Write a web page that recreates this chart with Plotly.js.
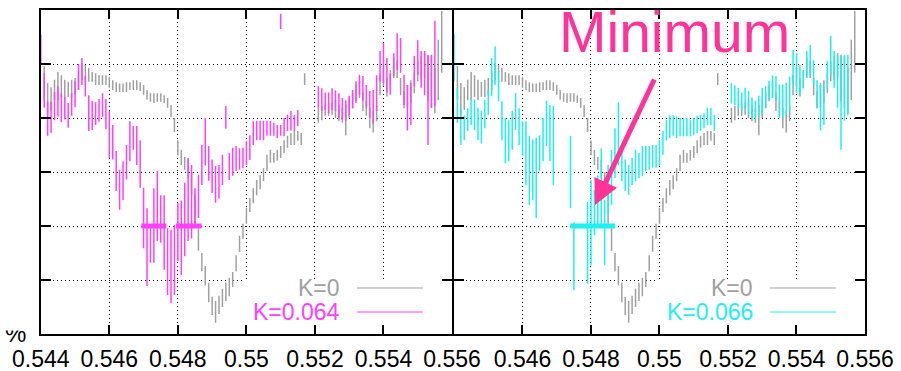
<!DOCTYPE html>
<html>
<head>
<meta charset="utf-8">
<script src="https://cdn.plot.ly/plotly-3.0.1.min.js"></script>
<style>html,body{margin:0;padding:0;background:#fff;}#chart{width:901px;height:371px;}</style>
</head>
<body>
<div id="chart"></div>
<script>
// x grid of the spectra: first sample and step
const xStart = 0.544;
const xStep = 0.0001;

// K=0 (gray), centre values and half-lengths of the error bars
const grayC = [null,
4.65,4.35,4.36,4.52,4.59,4.59,4.52,4.53,4.55,4.58,
4.69,4.86,4.82,4.80,4.76,4.72,4.70,4.70,4.70,4.66,
4.61,4.57,4.56,4.56,4.57,4.59,4.61,4.61,4.58,4.52,
4.43,4.38,4.37,4.38,4.38,4.35,4.28,4.13,3.87,3.45,
3.27,3.16,3.06,2.79,2.30,1.75,1.33,1.08,0.77,0.52,
0.41,0.54,0.67,0.78,0.87,1.01,1.31,1.67,1.90,2.19,
2.39,2.56,2.71,2.81,2.95,3.17,3.29,3.26,3.31,3.37,
3.47,3.56,3.61,3.63,3.67,3.61,4.72,null,null,null,
4.05,4.09,4.14,4.16,4.17,4.17,4.09,4.05,3.96,4.19,
4.32,4.46,4.53,4.30,4.18,4.00,3.93,4.09,4.61,4.76,
4.57,4.72,4.93,4.90,4.58,4.34,4.40,4.49,4.65,4.87,
4.93,4.97,4.74,4.67,4.51,4.89,5.41];
const grayE = [null,
0.31,0.30,0.21,0.19,0.26,0.20,0.19,0.14,0.16,0.16,
0.17,0.16,0.16,0.13,0.09,0.11,0.09,0.09,0.09,0.10,
0.09,0.09,0.08,0.08,0.09,0.07,0.09,0.09,0.08,0.09,
0.09,0.08,0.09,0.08,0.08,0.07,0.09,0.11,0.13,0.14,
0.14,0.12,0.17,0.21,0.28,0.21,0.17,0.18,0.18,0.17,
0.20,0.17,0.17,0.17,0.17,0.14,0.15,0.15,0.14,0.15,
0.13,0.14,0.14,0.13,0.12,0.15,0.12,0.09,0.10,0.11,
0.12,0.11,0.11,0.13,0.09,0.11,0.11,null,null,null,
0.14,0.13,0.10,0.12,0.11,0.17,0.15,0.14,0.28,0.19,
0.14,0.15,0.16,0.17,0.14,0.19,0.20,0.15,0.19,0.17,
0.17,0.17,0.19,0.16,0.16,0.16,0.21,0.21,0.19,0.19,
0.22,0.23,0.43,0.48,0.42,0.56,0.57];

// K=0.064 (magenta)
const magC = [5.28,
4.51,3.98,4.01,4.22,4.31,4.19,4.18,4.05,4.25,4.44,
4.76,4.86,4.59,4.09,4.05,4.08,4.14,4.24,4.07,3.69,
3.55,3.02,2.67,2.84,3.18,3.57,3.63,3.49,3.15,2.15,
1.61,1.66,2.01,2.37,2.13,1.88,1.34,1.25,1.37,1.89,
1.78,2.12,2.49,2.45,2.36,2.55,3.13,3.56,3.16,2.92,
2.77,2.82,3.04,4.01,3.10,3.19,3.25,3.24,3.26,3.35,
3.45,3.72,3.77,3.77,3.77,3.81,3.81,3.79,3.75,3.77,
3.83,3.91,3.95,3.91,4.00,null,null,null,null,null,
4.39,4.34,4.31,4.28,4.35,4.32,4.23,4.17,4.14,4.23,
4.35,4.48,4.61,4.55,4.40,4.25,4.21,4.46,4.96,5.02,
4.79,4.63,4.99,5.23,5.16,4.52,4.19,4.26,4.87,5.12,
4.90,4.83,4.33,4.68,5.01];
const magE = [0.26,
0.32,0.31,0.29,0.26,0.28,0.27,0.21,0.23,0.21,0.24,
0.24,0.25,0.19,0.33,0.27,0.21,0.21,0.22,0.28,0.44,
0.32,0.37,0.37,0.36,0.32,0.37,0.22,0.36,0.44,0.56,
0.72,0.34,0.69,0.65,0.44,0.69,0.62,0.68,0.65,0.54,
0.69,0.68,0.77,0.68,0.34,0.40,0.37,0.44,0.32,0.31,
0.34,0.31,0.28,0.21,0.25,0.26,0.23,0.20,0.19,0.22,
0.23,0.22,0.18,0.18,0.18,0.14,0.14,0.12,0.12,0.10,
0.17,0.15,0.18,0.15,0.15,null,null,null,null,null,
0.20,0.21,0.16,0.19,0.20,0.19,0.23,0.20,0.19,0.18,
0.17,0.20,0.19,0.23,0.21,0.25,0.31,0.33,0.28,0.37,
0.32,0.20,0.21,0.34,0.32,0.28,0.42,0.39,0.28,0.32,
0.34,0.41,0.83,0.49,0.79];
const magExtraX = [0.5510];
const magExtraC = [5.79];
const magExtraE = [0.14];

// K=0.066 (cyan)
const cyanC = [5.13,
4.23,3.84,3.82,3.97,4.12,4.06,3.89,3.83,4.07,4.29,
4.76,4.97,4.59,3.95,3.58,3.58,3.77,4.12,3.84,3.62,
3.35,3.03,3.04,2.89,3.35,3.60,3.90,3.72,3.49,null,
null,null,null,3.00,1.44,null,null,null,1.69,2.06,
2.25,2.48,2.73,1.88,2.67,2.90,3.35,3.71,3.11,2.94,
2.85,3.01,3.12,3.12,3.20,3.25,3.26,3.29,3.29,3.35,
3.54,3.77,3.84,3.86,3.83,3.83,3.83,3.83,3.81,3.84,
3.88,3.91,3.95,4.03,4.03,3.91,null,null,null,null,
4.46,4.42,4.37,4.30,4.37,4.28,4.19,4.14,4.23,4.31,
4.39,4.51,4.58,4.55,4.31,4.31,4.35,4.45,4.94,4.83,
4.70,4.72,4.99,5.07,4.84,4.44,4.21,4.23,4.81,5.16,
4.90,4.68,4.28,4.56,4.61];
const cyanE = [0.44,
0.32,0.34,0.23,0.21,0.25,0.28,0.30,0.30,0.26,0.23,
0.35,0.36,0.28,0.36,0.42,0.38,0.36,0.34,0.34,0.32,
0.59,0.64,0.56,0.74,0.33,0.40,0.42,0.52,0.73,null,
null,null,null,0.67,0.63,null,null,null,0.76,0.79,
0.42,0.46,0.71,0.60,0.46,0.51,0.46,0.58,0.28,0.29,
0.28,0.25,0.29,0.23,0.28,0.23,0.22,0.21,0.21,0.24,
0.22,0.19,0.21,0.19,0.20,0.17,0.17,0.17,0.15,0.16,
0.16,0.15,0.14,0.16,0.16,0.15,null,null,null,null,
0.19,0.18,0.19,0.17,0.19,0.22,0.19,0.18,0.18,0.25,
0.20,0.18,0.21,0.23,0.31,0.31,0.30,0.32,0.32,0.37,
0.28,0.17,0.25,0.28,0.23,0.26,0.44,0.36,0.25,0.36,
0.34,0.49,0.87,0.61,0.56];

// minimum estimates (horizontal error bars)
const minMagX = [0.54730, 0.54832];
const minMagY = [2.0, 2.0];
const minMagErr = [0.000365, 0.000375];
const minCyanX = [0.54805];
const minCyanY = [2.0];
const minCyanErr = [0.000657];

// axis ticks
const xTicks = [0.544, 0.546, 0.548, 0.550, 0.552, 0.554, 0.556];
const xLabelsLeft = ['0.544','0.546','0.548','0.55','0.552','0.554','0.556'];
const xLabelsRight = ['','0.546','0.548','0.55','0.552','0.554','0.556'];
const legendLeft = ['K=0', 'K=0.064'];
const legendRight = ['K=0', 'K=0.066'];

const GRAY = '#a0a0a0', MAG = '#ff40ff', CYAN = '#1ef0f0', PINK = '#ff3399';
const FONT = 'Liberation Sans, Arial, Helvetica, sans-serif';

function bars(c, e, color, xa, ya) {
  return {
    type: 'scatter', mode: 'markers', x0: xStart, dx: xStep, y: c,
    xaxis: xa, yaxis: ya, cliponaxis: false, hoverinfo: 'skip',
    marker: {size: 1, color: 'rgba(0,0,0,0)'},
    error_y: {type: 'data', array: e, symmetric: true, width: 0, thickness: 1.5, color: color}
  };
}
function hbars(x, y, err, color, xa, ya) {
  return {
    type: 'scatter', mode: 'markers', x: x, y: y, xaxis: xa, yaxis: ya,
    cliponaxis: false, hoverinfo: 'skip',
    marker: {size: 1, color: 'rgba(0,0,0,0)'},
    error_x: {type: 'data', array: err, symmetric: true, width: 0, thickness: 5, color: color}
  };
}

const data = [
  bars(grayC, grayE, GRAY, 'x', 'y'),
  bars(magC, magE, MAG, 'x', 'y'),
  {type: 'scatter', mode: 'markers', x: magExtraX, y: magExtraC, xaxis: 'x', yaxis: 'y',
   cliponaxis: false, hoverinfo: 'skip', marker: {size: 1, color: 'rgba(0,0,0,0)'},
   error_y: {type: 'data', array: magExtraE, symmetric: true, width: 0, thickness: 1.5, color: MAG}},
  hbars(minMagX, minMagY, minMagErr, MAG, 'x', 'y'),
  bars(grayC, grayE, GRAY, 'x2', 'y2'),
  bars(cyanC, cyanE, CYAN, 'x2', 'y2'),
  hbars(minCyanX, minCyanY, minCyanErr, CYAN, 'x2', 'y2')
];

function xaxis(domain, labels, anchor) {
  return {
    domain: domain, range: [0.544, 0.556], anchor: anchor,
    tickmode: 'array', tickvals: xTicks, ticktext: labels,
    ticks: 'inside', ticklen: 9, tickwidth: 2, tickcolor: '#000',
    showline: true, linewidth: 2, linecolor: '#000', mirror: 'ticks',
    showgrid: true, gridcolor: '#000', gridwidth: 1, griddash: '1px,3px',
    zeroline: false, ticklabelstandoff: 3,
    tickfont: {family: FONT, size: 23, color: '#000'}
  };
}
function yaxis(anchor) {
  return {
    domain: [0, 1], range: [0, 6], anchor: anchor, tick0: 0, dtick: 1,
    ticks: 'inside', ticklen: 10, tickwidth: 2, tickcolor: '#000',
    showline: true, linewidth: 2, linecolor: '#000', mirror: 'ticks',
    showgrid: true, gridcolor: '#000', gridwidth: 1, griddash: '1px,3px',
    zeroline: false, showticklabels: false
  };
}

const shapes = [];
const annotations = [];
[['x','y',legendLeft,MAG],['x2','y2',legendRight,CYAN]].forEach(function(p) {
  shapes.push({type: 'rect', xref: p[0], yref: p[1], x0: 0.5499, x1: 0.556, y0: 0, y1: 1.01,
    fillcolor: '#fff', line: {width: 0}, layer: 'between'});
  shapes.push({type: 'line', xref: p[0], yref: p[1], x0: 0.55323, x1: 0.55515, y0: 0.852, y1: 0.852,
    line: {color: GRAY, width: 1}});
  shapes.push({type: 'line', xref: p[0], yref: p[1], x0: 0.55323, x1: 0.55515, y0: 0.407, y1: 0.407,
    line: {color: p[3], width: 1}});
  annotations.push({xref: p[0], yref: p[1], x: 0.55278, y: 0.852, xanchor: 'right', yanchor: 'middle',
    text: p[2][0], showarrow: false, font: {family: FONT, size: 23, color: GRAY}});
  annotations.push({xref: p[0], yref: p[1], x: 0.55278, y: 0.407, xanchor: 'right', yanchor: 'middle',
    text: p[2][1], showarrow: false, font: {family: FONT, size: 23, color: p[3]}});
});
annotations.push({xref: 'x2', yref: 'y2', x: 0.55044, y: 5.589, xanchor: 'center', yanchor: 'middle',
  text: 'Minimum', showarrow: false, borderpad: 0, font: {family: FONT, size: 57, color: PINK}});
annotations.push({xref: 'x2', yref: 'y2', x: 0.548117, y: 2.389, axref: 'x2', ayref: 'y2',
  ax: 0.549869, ay: 4.741, text: '', showarrow: true, arrowhead: 2, arrowsize: 1,
  arrowwidth: 5, arrowcolor: PINK, standoff: 0});
annotations.push({xref: 'paper', yref: 'paper', x: 0.0167, y: -0.046, xanchor: 'center', yanchor: 'bottom',
  text: '%', showarrow: false, font: {family: FONT, size: 24, color: '#000'}});
annotations.push({xref: 'paper', yref: 'paper', x: 0.0167, y: 0.035, xanchor: 'center', yanchor: 'middle',
  text: ' ', width: 30, height: 14, bgcolor: '#fff', borderpad: 0, showarrow: false,
  font: {family: FONT, size: 8, color: '#fff'}});

const layout = {
  width: 901, height: 371,
  margin: {l: 0, r: 0, t: 10, b: 37, pad: 0},
  paper_bgcolor: '#fff', plot_bgcolor: '#fff', showlegend: false,
  xaxis: xaxis([0.04528, 0.50166], xLabelsLeft, 'y'),
  yaxis: yaxis('x'),
  xaxis2: xaxis([0.50388, 0.96004], xLabelsRight, 'y2'),
  yaxis2: yaxis('x2'),
  shapes: shapes, annotations: annotations
};

Plotly.newPlot('chart', data, layout, {staticPlot: true, displayModeBar: false});
</script>
</body>
</html>
